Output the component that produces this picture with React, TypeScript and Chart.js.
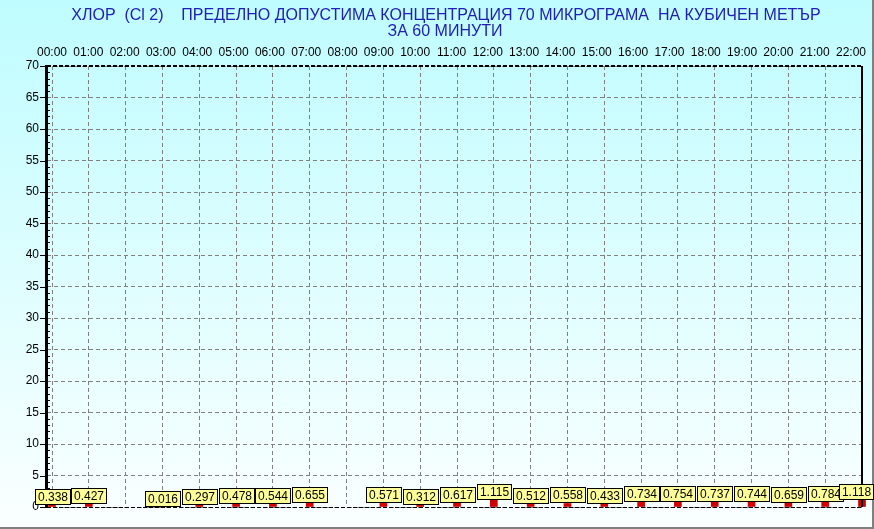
import React, { useEffect, useRef } from "react";
import { Chart, registerables } from "chart.js";

Chart.register(...registerables);

const hourLabels = [
  "00:00", "01:00", "02:00", "03:00", "04:00", "05:00", "06:00", "07:00",
  "08:00", "09:00", "10:00", "11:00", "12:00", "13:00", "14:00", "15:00",
  "16:00", "17:00", "18:00", "19:00", "20:00", "21:00", "22:00",
];

const values: (number | null)[] = [
  0.338, 0.427, null, 0.016, 0.297, 0.478, 0.544, 0.655,
  null, 0.571, 0.312, 0.617, 1.115, 0.512, 0.558, 0.433,
  0.734, 0.754, 0.737, 0.744, 0.659, 0.784, 1.118,
];

const yMin = 0;
const yMax = 70;
const yStep = 5;

const titleLines = [
  "ХЛОР  (Cl 2)    ПРЕДЕЛНО ДОПУСТИМА КОНЦЕНТРАЦИЯ 70 МИКРОГРАМА  НА КУБИЧЕН МЕТЪР",
  "ЗА 60 МИНУТИ",
];

const FONT = "Arial, 'Liberation Sans', sans-serif";

const decoPlugin = {
  id: "deco",
  beforeDraw(chart: any) {
    const { ctx, width, height } = chart;
    ctx.save();
    const g = ctx.createLinearGradient(0, 0, 0, height);
    g.addColorStop(0, "#bffcff");
    g.addColorStop(1, "#fbffff");
    ctx.fillStyle = g;
    ctx.fillRect(0, 0, width, height);
    ctx.restore();
  },
  afterDraw(chart: any) {
    const { ctx, chartArea, width, height } = chart;
    const { left, right, top, bottom } = chartArea;
    const xs = chart.scales.x;
    const ys = chart.scales.y;
    ctx.save();

    // title
    ctx.fillStyle = "#2020b4";
    ctx.font = `16px ${FONT}`;
    ctx.textAlign = "center";
    ctx.textBaseline = "middle";
    ctx.fillText(titleLines[0], 446, 16);
    ctx.fillText(titleLines[1], 445, 32);

    // top hour labels (label row spans slightly narrower than the grid)
    ctx.fillStyle = "#000";
    ctx.font = `12px ${FONT}`;
    const n = hourLabels.length - 1;
    const x0 = xs.getPixelForValue(0);
    const xn = xs.getPixelForValue(n) - 11;
    hourLabels.forEach((lab, i) => {
      const cx = x0 + ((xn - x0) * i) / n;
      ctx.fillText(lab, cx, 53);
    });

    // borders
    ctx.strokeStyle = "#000";
    ctx.setLineDash([4, 2]);
    ctx.lineWidth = 2;
    ctx.beginPath();
    ctx.moveTo(left, top);
    ctx.lineTo(right, top);
    ctx.stroke();
    ctx.lineWidth = 1;
    ctx.beginPath();
    ctx.moveTo(left, bottom + 0.5);
    ctx.lineTo(right, bottom + 0.5);
    ctx.stroke();
    ctx.setLineDash([]);
    ctx.lineWidth = 2;
    ctx.beginPath();
    ctx.moveTo(right, top);
    ctx.lineTo(right, bottom);
    ctx.stroke();
    ctx.fillStyle = "#000";
    ctx.fillRect(left - 2, top - 1, 3, bottom - top + 2);

    // y ticks major and minor
    ctx.lineWidth = 1;
    for (let v = yMin; v <= yMax; v += 1) {
      const y = Math.round(ys.getPixelForValue(v)) + 0.5;
      ctx.beginPath();
      if (v % yStep === 0) {
        ctx.moveTo(left - 7, y);
        ctx.lineTo(left, y);
      } else {
        ctx.moveTo(left, y);
        ctx.lineTo(left + 3, y);
      }
      ctx.stroke();
    }

    // outer frame
    ctx.fillStyle = "#808080";
    ctx.fillRect(0, height - 2, width, 2);
    ctx.fillRect(width - 2, 0, 2, height);

    // value boxes
    ctx.font = `12px ${FONT}`;
    ctx.textAlign = "center";
    ctx.textBaseline = "middle";
    values.forEach((v, i) => {
      if (v === null) return;
      const x = xs.getPixelForValue(i);
      const yTop = ys.getPixelForValue(v);
      const txt = v.toFixed(3);
      const w = Math.round(ctx.measureText(txt).width + 5);
      const h = 15;
      let bx = Math.round(x - w / 2) + 0.5;
      if (bx + w > width - 0.5) bx = width - 0.5 - w;
      const by = Math.round(yTop - 1 - h) + 0.5;
      ctx.fillStyle = "#ffff99";
      ctx.fillRect(bx, by, w, h);
      ctx.strokeStyle = "#000";
      ctx.lineWidth = 1;
      ctx.strokeRect(bx, by, w, h);
      ctx.fillStyle = "#000";
      ctx.fillText(txt, bx + w / 2, by + h / 2 + 0.5);
    });

    ctx.restore();
  },
};

export default function App() {
  const ref = useRef<HTMLCanvasElement | null>(null);

  useEffect(() => {
    document.body.style.margin = "0";
    const canvas = ref.current;
    if (!canvas) return;
    const chart = new Chart(canvas, {
      type: "bar",
      data: {
        datasets: [
          {
            data: values.map((v, i) => ({ x: i, y: v })) as any,
            backgroundColor: "#d00000",
            borderColor: "#900000",
            borderWidth: 0,
            barThickness: 7,
            clip: false as any,
          },
        ],
      },
      plugins: [decoPlugin],
      options: {
        animation: false,
        responsive: false,
        devicePixelRatio: 1,
        layout: { padding: { left: 0, top: 0, right: 12, bottom: 22 } },
        plugins: {
          legend: { display: false },
          tooltip: { enabled: false },
          title: { display: false },
        },
        scales: {
          x: {
            type: "linear",
            position: "top",
            offset: false,
            min: -0.136,
            max: 22,
            afterFit: (s: any) => {
              s.height = 66;
            },
            ticks: { stepSize: 1, display: false, includeBounds: false },
            grid: { color: "#808080", lineWidth: 1, drawTicks: false, offset: false },
            border: { display: false, dash: [4, 3] },
          },
          y: {
            type: "linear",
            min: yMin,
            max: yMax,
            afterFit: (s: any) => {
              s.width = 47;
            },
            ticks: {
              stepSize: yStep,
              color: "#000",
              padding: 8,
              font: { family: FONT, size: 12 },
            },
            grid: { color: "#808080", lineWidth: 1, drawTicks: false },
            border: { display: false, dash: [4, 3] },
          },
        },
      },
    });
    return () => chart.destroy();
  }, []);

  return (
    <div style={{ position: "absolute", left: 0, top: 0, width: 874, height: 529 }}>
      <canvas ref={ref} width={874} height={529} style={{ display: "block", width: 874, height: 529 }} />
    </div>
  );
}
